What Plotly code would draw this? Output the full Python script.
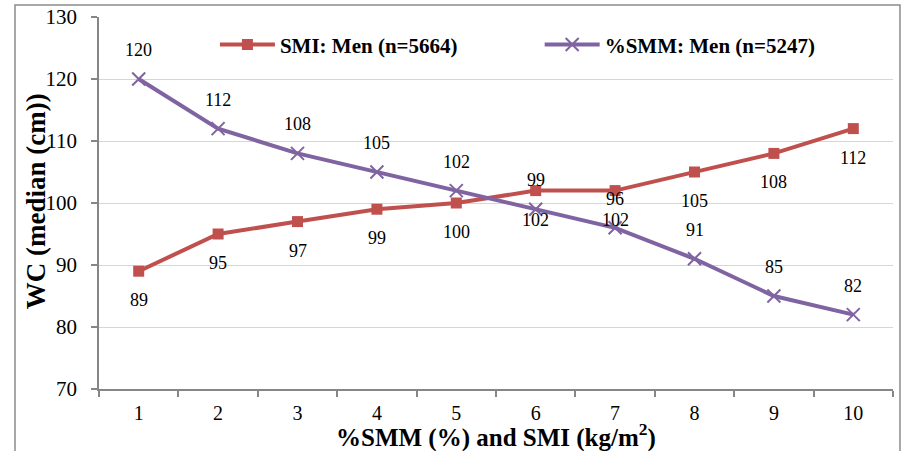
import plotly.graph_objects as go

# Quantile groups on the x axis
categories = ["1", "2", "3", "4", "5", "6", "7", "8", "9", "10"]
# Median waist circumference (cm) per group
smi_men = [89, 95, 97, 99, 100, 102, 102, 105, 108, 112]
smm_men = [120, 112, 108, 105, 102, 99, 96, 91, 85, 82]
y_ticks = [70, 80, 90, 100, 110, 120, 130]

SERIF = "Times New Roman"
RED = "#C0504D"
PURPLE = "#8064A2"
GRID = "#C6D9F1"
AXIS = "#868686"

fig = go.Figure()
fig.add_trace(go.Scatter(
    x=categories, y=smi_men, mode="lines+markers", name="SMI: Men (n=5664)",
    line=dict(color=RED, width=4),
    marker=dict(symbol="square", size=11, color=RED),
    legend="legend",
))
fig.add_trace(go.Scatter(
    x=categories, y=smm_men, mode="lines+markers", name="%SMM: Men (n=5247)",
    line=dict(color=PURPLE, width=4),
    marker=dict(symbol="x-thin", size=13, line=dict(width=2, color=PURPLE)),
    legend="legend2",
))

annotations = []
# value labels: SMI below its points, %SMM above its points
# (category axis: annotations are placed by category index)
for i, val in enumerate(smi_men):
    annotations.append(dict(x=i, y=val, text=str(val), showarrow=False, yshift=-29,
                            font=dict(family=SERIF, size=18, color="black")))
for i, val in enumerate(smm_men):
    annotations.append(dict(x=i, y=val, text=str(val), showarrow=False, yshift=29,
                            font=dict(family=SERIF, size=18, color="black")))

# axis titles
annotations.append(dict(xref="paper", yref="paper", x=0.5, y=-0.124,
                        xanchor="center", yanchor="middle", showarrow=False,
                        text="<b>%SMM (%) and SMI (kg/m<sup>2</sup>)</b>",
                        font=dict(family=SERIF, size=25, color="black")))
annotations.append(dict(xref="paper", yref="paper", x=-0.0793, y=0.505,
                        xanchor="center", yanchor="middle", showarrow=False,
                        textangle=-90, text="<b>WC (median (cm))</b>",
                        font=dict(family=SERIF, size=27, color="black")))

legend_common = dict(orientation="h", yanchor="middle", xanchor="left", y=0.925,
                     font=dict(family=SERIF, size=21, color="black", weight="bold"),
                     itemwidth=55, bgcolor="rgba(0,0,0,0)")

fig.update_layout(
    width=912, height=451,
    margin=dict(l=99, r=19, t=17, b=62),
    paper_bgcolor="white", plot_bgcolor="white",
    font=dict(family=SERIF, color="black"),
    showlegend=True,
    legend=dict(x=0.146, **legend_common),
    legend2=dict(x=0.555, **legend_common),
    annotations=annotations,
    shapes=[dict(type="rect", xref="paper", yref="paper",
                 x0=-0.1058, x1=1.0088, y0=-0.25, y1=1.032,
                 line=dict(color="#8C8C8C", width=1.5), layer="below")],
)

fig.update_xaxes(
    type="category", range=[-0.5, 9.5], automargin=False,
    showline=True, linecolor=AXIS, linewidth=1.5,
    ticks="outside", tickson="boundaries", ticklen=6, tickcolor=AXIS, tickwidth=1.5,
    ticklabelstandoff=5,
    showgrid=False, tickfont=dict(family=SERIF, size=20, color="black"),
)
fig.update_yaxes(
    range=[70, 130], tickvals=y_ticks, automargin=False,
    showline=True, linecolor=AXIS, linewidth=1.5,
    ticks="outside", ticklen=6, tickcolor=AXIS, tickwidth=1.5,
    ticklabelstandoff=10,
    showgrid=True, gridcolor=GRID, gridwidth=1.2, zeroline=False,
    tickfont=dict(family=SERIF, size=21, color="black"),
)

fig.write_html("out.html")
